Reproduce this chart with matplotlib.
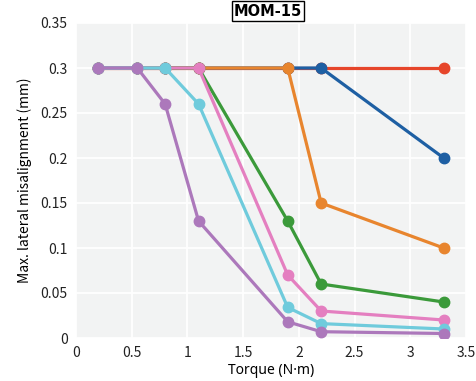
import matplotlib
matplotlib.use("Agg")
import matplotlib.pyplot as plt

plt.rcParams['font.family'] = ['Noto Sans CJK JP', 'DejaVu Sans']

torque = [0.2, 0.55, 0.8, 1.1, 1.9, 2.2, 3.3]
red = [0.3, 0.3, 0.3, 0.3, 0.3, 0.3, 0.3]
blue = [0.3, 0.3, 0.3, 0.3, 0.3, 0.3, 0.2]
orange = [0.3, 0.3, 0.3, 0.3, 0.3, 0.15, 0.1]
green = [0.3, 0.3, 0.3, 0.3, 0.13, 0.06, 0.04]
pink = [0.3, 0.3, 0.3, 0.3, 0.07, 0.03, 0.02]
cyan = [0.3, 0.3, 0.3, 0.26, 0.034, 0.016, 0.01]
purple = [0.3, 0.3, 0.26, 0.13, 0.018, 0.007, 0.005]

series = [
    (red, '#e6452a'),
    (blue, '#1e5fa3'),
    (orange, '#e8852e'),
    (green, '#3b9a3a'),
    (pink, '#e47fc0'),
    (cyan, '#6fcbdc'),
    (purple, '#ac78bb'),
]

xticks = [0, 0.5, 1, 1.5, 2, 2.5, 3, 3.5]
xtick_labels = ['0', '0.5', '1', '1.5', '2', '2.5', '3', '3.5']
yticks = [0, 0.05, 0.1, 0.15, 0.2, 0.25, 0.3, 0.35]
ytick_labels = ['0', '0.05', '0.1', '0.15', '0.2', '0.25', '0.3', '0.35']

fig = plt.figure(figsize=(4.77, 3.81), dpi=100)
ax = fig.add_axes([76/477, (381-338)/381, (466-76)/477, (338-23)/381])
ax.set_facecolor('#f2f3f3')
for s in ax.spines.values():
    s.set_visible(False)
ax.grid(True, color='white', linewidth=1.3)
ax.set_axisbelow(True)

for ys, c in series:
    ax.plot(torque, ys, color=c, linewidth=2.3, marker='o', markersize=7.5, zorder=3)

ax.set_xlim(0, 3.5)
ax.set_ylim(0, 0.35)
ax.set_xticks(xticks)
ax.set_xticklabels(xtick_labels)
ax.set_yticks(yticks)
ax.set_yticklabels(ytick_labels)
ax.tick_params(length=0, labelsize=10, colors='#222222', pad=6)
ax.set_xlabel('Torque (N·m)', fontsize=10, labelpad=2, family=['Noto Sans', 'DejaVu Sans'])
ax.set_ylabel('Max. lateral misalignment (mm)', fontsize=10, labelpad=6)

fig.text(268/477, 1 - 11/381, 'MOM-15', ha='center', va='center', fontsize=10.5,
         fontweight='bold', family=['DejaVu Sans'],
         bbox=dict(boxstyle='square,pad=0.15', facecolor='white', edgecolor='black', linewidth=1))

fig.savefig('out.png', dpi=100)
